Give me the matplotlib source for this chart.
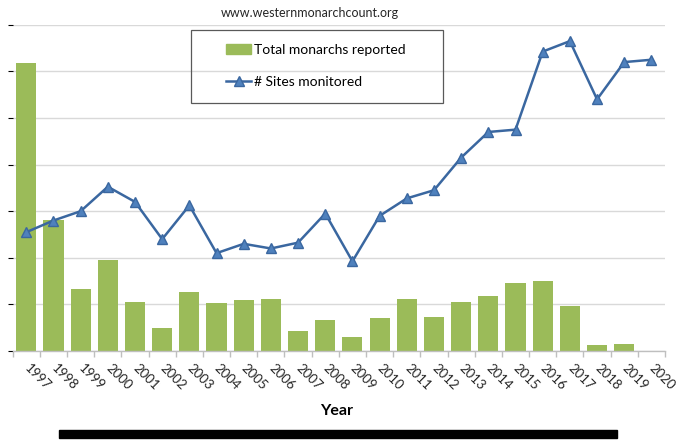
import matplotlib
matplotlib.use("Agg")
import matplotlib.pyplot as plt
from matplotlib.patches import Rectangle
from matplotlib.lines import Line2D
from matplotlib.ticker import FixedLocator

years = [str(y) for y in range(1997, 2021)]
monarchs = [1235490, 564349, 267574, 390057, 209570, 99353, 254378, 205085,
            218679, 221058, 86437, 131889, 58468, 143204, 222525, 144812,
            211275, 234731, 292888, 298464, 192624, 27218, 29418, 1914]
sites = [102, 112, 120, 141, 128, 96, 125, 84, 92, 88, 93, 118, 77, 116,
         131, 138, 166, 188, 190, 257, 266, 216, 248, 250]

plt.rcParams['font.family'] = ['Lato', 'DejaVu Sans']

W, H = 676, 441
fig = plt.figure(figsize=(W / 100, H / 100), dpi=100)
ax = fig.add_axes([12.7 / W, 1 - 351 / H, (665 - 12.7) / W, (351 - 24.8) / H])

x = list(range(len(years)))
ax.bar(x, monarchs, width=0.74, color='#9bbb59', zorder=2,
       label='Total monarchs reported')
ax.set_xlim(-0.5, len(years) - 0.5)
ax.set_ylim(0, 1400000)
ax.set_yticks(range(0, 1400001, 200000))
ax.yaxis.grid(True, color='#d9d9d9', linewidth=1)
ax.set_axisbelow(True)
ax.tick_params(axis='y', left=False, labelleft=False)
for s in ['top', 'right', 'left']:
    ax.spines[s].set_visible(False)
ax.spines['bottom'].set_color('#bfbfbf')
ax.spines['bottom'].set_linewidth(1)

ax.set_xticks(x)
ax.set_xticklabels(years, rotation=-45, ha='left', va='center',
                   rotation_mode='anchor', fontsize=9.5, color='#262626')
ax.tick_params(axis='x', which='major', length=0, pad=11)
ax.xaxis.set_minor_locator(FixedLocator([i - 0.5 for i in range(len(years) + 1)]))
ax.tick_params(axis='x', which='minor', length=4.5, color='#bfbfbf', width=1)

ax.set_xlabel('Year', fontsize=11.5, fontweight='bold', va='center')
ax.xaxis.set_label_coords((336.7 - 12.7) / (665 - 12.7), (351 - 410.7) / (351 - 24.8))

ax2 = ax.twinx()
ax2.plot(x, sites, color='#3a67a0', linewidth=1.8, marker='^', markersize=7.5,
         markerfacecolor='#4f81bd', markeredgecolor='#3a67a0', zorder=3,
         label='# Sites monitored')
ax2.set_ylim(0, 280)
ax2.set_yticks([])
for s in ax2.spines.values():
    s.set_visible(False)

# title
fig.text(310 / W, 1 - 13 / H, 'www.westernmonarchcount.org', ha='center',
         va='center', fontsize=9, color='#262626')

# legend frame and legend
fig.patches.append(Rectangle((191 / W, 1 - 103 / H), 252 / W, 73 / H,
                             transform=fig.transFigure, fill=False,
                             edgecolor='#595959', linewidth=0.9))
handles = [Rectangle((0, 0), 1, 1, color='#9bbb59'),
           Line2D([], [], color='#3a67a0', linewidth=1.8, marker='^',
                  markersize=7.5, markerfacecolor='#4f81bd',
                  markeredgecolor='#3a67a0')]
fig.legend(handles, ['Total monarchs reported', '# Sites monitored'],
           loc='center left', bbox_to_anchor=(226 / W, 1 - 66 / H),
           frameon=False, fontsize=10, handlelength=1.8, handletextpad=0.25,
           labelspacing=1.45, borderpad=0, borderaxespad=0)

# black bar at bottom
fig.patches.append(Rectangle((59 / W, 1 - 438 / H), (617 - 59) / W, 8 / H,
                             transform=fig.transFigure, color='black'))

fig.savefig('out.png', dpi=100)
